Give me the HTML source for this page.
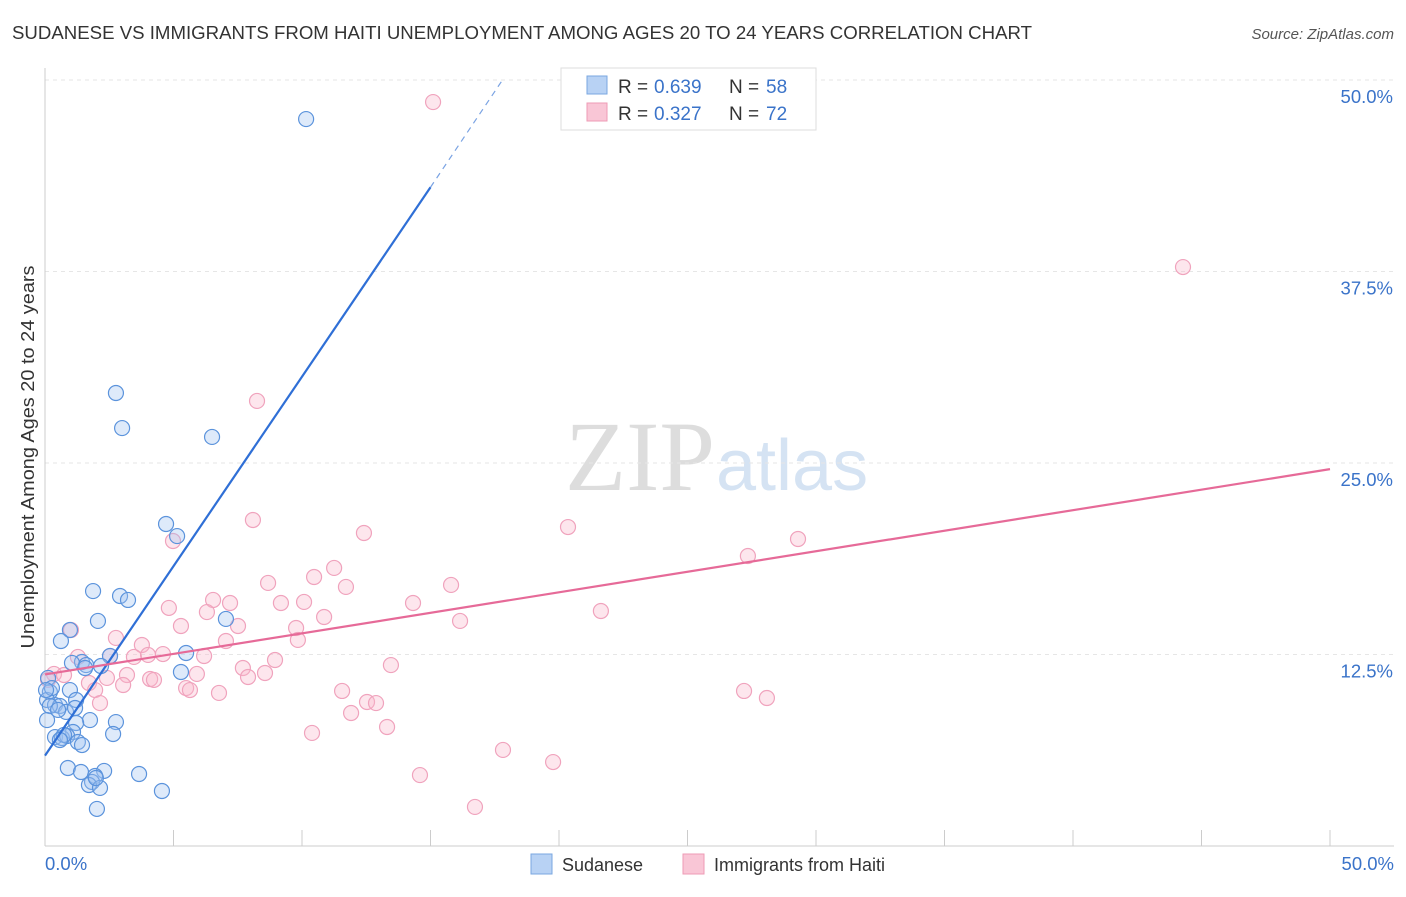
<!DOCTYPE html>
<html><head><meta charset="utf-8"><style>
body{margin:0;background:#fff;font-family:"Liberation Sans",sans-serif}
</style></head><body>
<svg id="c" width="1406" height="892" xmlns="http://www.w3.org/2000/svg" font-family="Liberation Sans, sans-serif">
<text x="12" y="39" font-size="18" fill="#333" textLength="1020" lengthAdjust="spacingAndGlyphs">SUDANESE VS IMMIGRANTS FROM HAITI UNEMPLOYMENT AMONG AGES 20 TO 24 YEARS CORRELATION CHART</text>
<text x="1394" y="39" font-size="15" fill="#555" text-anchor="end" font-style="italic">Source: ZipAtlas.com</text>
<text x="715" y="490" font-size="100" text-anchor="end" fill="#ddd" font-family="Liberation Serif, serif">ZIP</text>
<text x="716" y="490" font-size="72" fill="#d5e3f3">atlas</text>
<text transform="translate(34,457) rotate(-90)" font-size="18" fill="#333" text-anchor="middle" textLength="383" lengthAdjust="spacingAndGlyphs">Unemployment Among Ages 20 to 24 years</text>
<g id="grid"></g><g id="marks"></g>
<g>
<rect x="561" y="68" width="255" height="62" fill="#fff" stroke="#ddd"/>
<rect x="587" y="76" width="20" height="18" fill="#b8d2f4" stroke="#7aa7e0"/>
<rect x="587" y="103" width="20" height="18" fill="#f9c6d6" stroke="#ee9bb5"/>
<text x="618" y="93" font-size="19" fill="#333">R =</text><text x="654" y="93" font-size="19" fill="#3a73c9">0.639</text>
<text x="729" y="93" font-size="19" fill="#333">N =</text><text x="766" y="93" font-size="19" fill="#3a73c9">58</text>
<text x="618" y="120" font-size="19" fill="#333">R =</text><text x="654" y="120" font-size="19" fill="#3a73c9">0.327</text>
<text x="729" y="120" font-size="19" fill="#333">N =</text><text x="766" y="120" font-size="19" fill="#3a73c9">72</text>
</g>
<g>
<rect x="531" y="854" width="21" height="20" fill="#b8d2f4" stroke="#7aa7e0"/>
<text x="562" y="871" font-size="18" fill="#333">Sudanese</text>
<rect x="683" y="854" width="21" height="20" fill="#f9c6d6" stroke="#ee9bb5"/>
<text x="714" y="871" font-size="18" fill="#333">Immigrants from Haiti</text>
</g>
</svg>
<script>
const yTicks=[12.5,25,37.5,50];
const yTickLabels=["12.5%","25.0%","37.5%","50.0%"];
const xEnds=["0.0%","50.0%"];
const bluePx=[[306,119],[116,393],[122,428],[212,437],[166,524],[177,536],[93,591],[120,596],[128,600],[98,621],[226,619],[70,630],[61,641],[186,653],[110,656],[82,662],[72,663],[86,665],[101,666],[181,672],[48,678],[50,692],[70,690],[47,700],[76,700],[55,705],[60,706],[66,712],[90,720],[116,722],[76,723],[73,732],[113,734],[55,737],[62,738],[67,736],[78,742],[82,745],[68,768],[81,772],[104,771],[95,776],[139,774],[92,782],[89,785],[100,788],[162,791],[97,809],[50,706],[58,710],[52,688],[46,690],[64,735],[60,740],[96,778],[85,668],[75,708],[47,720]];
const pinkPx=[[433,102],[1183,267],[257,401],[253,520],[568,527],[364,533],[173,541],[798,539],[748,556],[334,568],[314,577],[451,585],[346,587],[268,583],[213,600],[230,603],[169,608],[207,612],[281,603],[304,602],[413,603],[601,611],[324,617],[460,621],[181,626],[238,626],[71,630],[296,628],[116,638],[226,641],[142,645],[298,640],[78,657],[134,657],[148,655],[163,654],[110,656],[204,656],[275,660],[243,668],[391,665],[197,674],[127,675],[54,674],[64,675],[265,673],[248,677],[150,679],[154,680],[107,678],[89,683],[123,685],[48,680],[95,690],[186,688],[190,690],[219,693],[342,691],[744,691],[767,698],[100,703],[367,702],[376,703],[351,713],[387,727],[312,733],[503,750],[553,762],[420,775],[475,807]];
const blueX=bluePx.map(p=>+((p[0]-45)/25.7).toFixed(2));
const blueY=bluePx.map(p=>+((846-p[1])/15.32).toFixed(2));
const pinkX=pinkPx.map(p=>+((p[0]-45)/25.7).toFixed(2));
const pinkY=pinkPx.map(p=>+((846-p[1])/15.32).toFixed(2));
const blueLine=[[0,5.9],[15,43],[17.8,50]];
const pinkLine=[[0,11.2],[50,24.6]];
const X=v=>45+v*25.7, Y=v=>846-v*15.32;
const NS="http://www.w3.org/2000/svg";
const grid=document.getElementById('grid'), marks=document.getElementById('marks');
function mk(tag,attrs,parent){const e=document.createElementNS(NS,tag);for(const k in attrs)e.setAttribute(k,attrs[k]);parent.appendChild(e);return e;}
yTicks.forEach((t,i)=>{
 const l=mk('line',{x1:45,x2:1394,y1:Y(t),y2:Y(t),stroke:'#e6e6e6','stroke-dasharray':'4,4'},grid);
 
 
 const tx=mk('text',{x:1393,y:Y(t)+23,'font-size':18.5,fill:'#3a73c9','text-anchor':'end'},grid);
 tx.textContent=yTickLabels[i];
 
 
});
const ax=mk('line',{x1:45,x2:1394,y1:846,y2:846,stroke:'#ccc'},grid);


const ay=mk('line',{x1:45,x2:45,y1:68,y2:846,stroke:'#ccc'},grid);


for(let i=0;i<=10;i++){const t=mk('line',{x1:X(i*5),x2:X(i*5),y1:830,y2:846,stroke:'#ccc'},grid);
 
 }
[[0,'start',45],[50,'end',1394]].forEach((d,i)=>{const t=mk('text',{x:d[2],y:870,'font-size':18.5,fill:'#3a73c9','text-anchor':d[1]},grid);t.textContent=xEnds[i];
 
 });
function pts(xs,ys,fill,stroke,name){xs.forEach((x,i)=>{const c=mk('circle',{cx:X(x),cy:Y(ys[i]),r:7.5,fill:fill,stroke:stroke,'stroke-width':1.2},marks);
 
 });}
pts(pinkX,pinkY,'rgba(248,184,204,0.35)','#f0a3bd','haiti-point');
pts(blueX,blueY,'rgba(160,195,240,0.35)','#5b93dc','sudanese-point');
const bl=mk('line',{x1:X(blueLine[0][0]),y1:Y(blueLine[0][1]),x2:X(blueLine[1][0]),y2:Y(blueLine[1][1]),stroke:'#2f6fd6','stroke-width':2.2},marks);


const bd=mk('line',{x1:X(blueLine[1][0]),y1:Y(blueLine[1][1]),x2:X(blueLine[2][0]),y2:Y(blueLine[2][1]),stroke:'#7aa3e3','stroke-width':1.2,'stroke-dasharray':'6,5'},marks);


const pl=mk('line',{x1:X(pinkLine[0][0]),y1:Y(pinkLine[0][1]),x2:X(pinkLine[1][0]),y2:Y(pinkLine[1][1]),stroke:'#e66a98','stroke-width':2.2},marks);


</script>
</body></html>
